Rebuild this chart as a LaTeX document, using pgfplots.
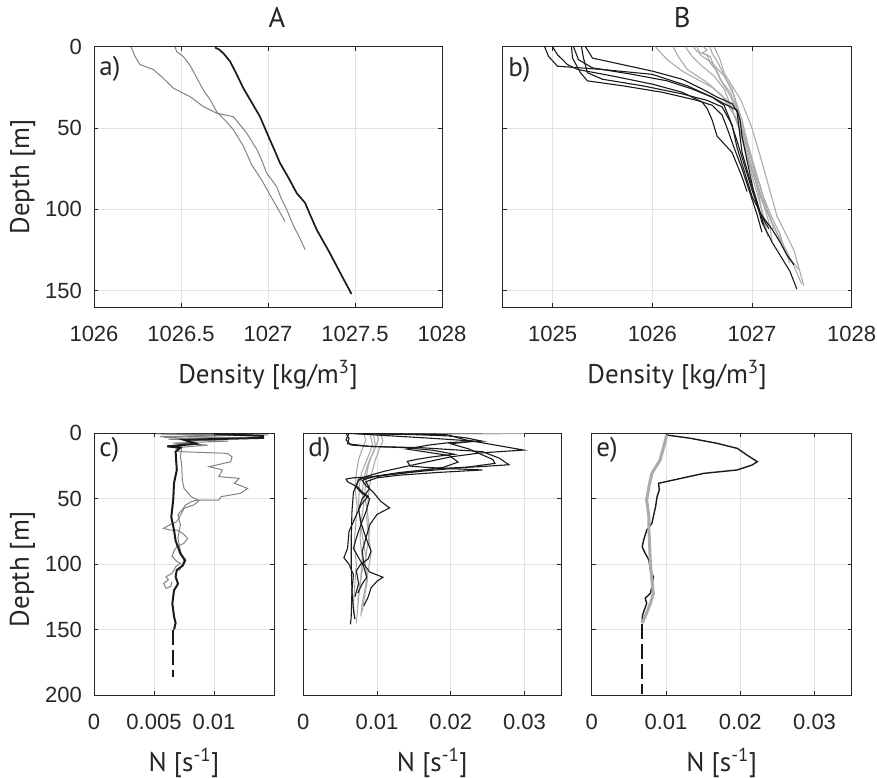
\documentclass[border=0pt]{standalone}
\usepackage{pgfplots}
\pgfplotsset{compat=1.18}
\usepackage{fontspec}
\setmainfont{Liberation Sans}
\newfontfamily\labfont{PT Sans}
\definecolor{axc}{HTML}{262626}
\definecolor{gridc}{HTML}{E2E2E2}
\definecolor{midgray}{HTML}{828282}
\definecolor{ltgray}{HTML}{ABABAB}
\definecolor{blk}{HTML}{1A1A1A}
\pgfplotsset{
  myax/.style={
    scale only axis,
    anchor=north west,
    y dir=reverse,
    scaled x ticks=false, scaled y ticks=false,
    axis line style={axc, line width=0.9pt},
    every tick/.style={axc, line width=0.9pt},
    major tick length=4pt,
    tick align=inside,
    xtick pos=both, ytick pos=both,
    grid=major,
    major grid style={gridc, line width=0.9pt},
    xticklabel style={font=\fontsize{22}{25}\selectfont, text=axc, anchor=base, inner sep=0pt, yshift=-34.5pt},
    yticklabel style={font=\fontsize{22}{25}\selectfont, text=axc, anchor=east, inner sep=0pt, xshift=-12pt},
    label style={font=\labfont\fontsize{27}{30}\selectfont, text=axc},
    title style={font=\labfont\fontsize{28.5}{31}\selectfont, text=axc, anchor=base, inner sep=0pt},
    xlabel style={at={(axis description cs:0.5,0)}, anchor=base, inner sep=0pt, yshift=-76pt},
    /pgf/number format/assume math mode=true,
    clip=true,
  },
}
\tikzset{plab/.style={font=\labfont\fontsize{27}{30}\selectfont, text=axc, anchor=base west, inner sep=0pt}}
\begin{document}
\begin{tikzpicture}
\useasboundingbox (0pt,0pt) rectangle (877pt,-778pt);
% ---------------- panel a
\begin{axis}[myax, at={(94pt,-46.7pt)}, width=348pt, height=260.3pt,
  xmin=1026, xmax=1028, ymin=0, ymax=160,
  xtick={1026,1026.5,1027,1027.5,1028}, xticklabels={1026,1026.5,1027,1027.5,1028},
  ytick={0,50,100,150}, yticklabels={0,50,100,150},
  xlabel={Density [kg/m\textsuperscript{3}]},
  ylabel={Depth [m]}, ylabel style={at={(axis description cs:-0.205,0.5)}, anchor=center, inner sep=0pt},
  title={A}, title style={at={(axis description cs:0.5,1)}, yshift=13.4pt, xshift=9pt}]
\addplot[midgray, line width=1pt] coordinates {
(1026.213,0) (1026.236,6) (1026.264,11) (1026.341,14) (1026.398,19.4) (1026.456,25.5) (1026.552,30.7) (1026.628,36.8) (1026.705,40.9) (1026.801,43) (1026.839,48) (1026.877,53) (1026.935,63) (1026.965,70) (1026.992,77.7) (1027.05,86) (1027.075,93) (1027.107,100) (1027.146,110) (1027.18,117) (1027.213,124.7)};
\addplot[midgray, line width=1pt] coordinates {
(1026.466,0) (1026.475,3) (1026.513,6) (1026.552,11.5) (1026.59,19) (1026.628,26.6) (1026.67,33) (1026.705,40) (1026.76,46) (1026.801,51) (1026.858,61) (1026.906,72.6) (1026.963,81.8) (1027.011,91) (1027.059,100) (1027.098,107.4)};
\addplot[blk, line width=1.7pt] coordinates {
(1026.695,0.5) (1026.72,1.8) (1026.743,4) (1026.782,9) (1026.82,17) (1026.858,25.5) (1026.905,34) (1026.954,43) (1027.002,55) (1027.035,63) (1027.069,71.5) (1027.12,81) (1027.165,90) (1027.213,96) (1027.245,104) (1027.28,112.5) (1027.356,127) (1027.42,140) (1027.48,152)};
\node[plab] at (axis description cs:0.015,0.888) {a)};
\end{axis}
% ---------------- panel b
\begin{axis}[myax, at={(502.7pt,-46.7pt)}, width=349pt, height=260.3pt,
  xmin=1024.5, xmax=1028, ymin=0, ymax=160,
  xtick={1025,1026,1027,1028}, xticklabels={1025,1026,1027,1028},
  ytick={0,50,100,150}, yticklabels={},
  xlabel={Density [kg/m\textsuperscript{3}]},
  title={B}, title style={at={(axis description cs:0.5,1)}, yshift=13.4pt, xshift=5pt}]
% gray profiles
\addplot[ltgray, line width=1.1pt] coordinates {(1026.03,0) (1026.15,8) (1026.3,15) (1026.45,20) (1026.6,25) (1026.75,33) (1026.85,45) (1026.92,60) (1026.98,75) (1027.05,90) (1027.12,105) (1027.16,117)};
\addplot[ltgray, line width=1.1pt] coordinates {(1026.21,0) (1026.25,5) (1026.35,14) (1026.55,22) (1026.7,30) (1026.82,42) (1026.9,55) (1026.97,70) (1027.05,85) (1027.15,100) (1027.25,115) (1027.35,128) (1027.47,137)};
\addplot[ltgray, line width=1.1pt] coordinates {(1026.33,0) (1026.4,6) (1026.5,12) (1026.62,18) (1026.72,26) (1026.8,38) (1026.88,52) (1026.95,68) (1027.02,80) (1027.1,95) (1027.2,108) (1027.3,120) (1027.4,132) (1027.5,146)};
\addplot[ltgray, line width=1.1pt] coordinates {(1026.41,0) (1026.45,3) (1026.55,5) (1026.58,10) (1026.65,15) (1026.7,22) (1026.78,30) (1026.85,40) (1026.92,55) (1027.0,70) (1027.08,85) (1027.15,100) (1027.22,112) };
\addplot[ltgray, line width=1.1pt] coordinates {(1026.51,0) (1026.55,2) (1026.5,4) (1026.58,6) (1026.62,12) (1026.68,20) (1026.78,28) (1026.86,40) (1026.93,55) (1027.0,70) (1027.06,85) (1027.12,98) (1027.18,110) (1027.2,120)};
\addplot[ltgray, line width=1.1pt] coordinates {(1026.62,0) (1026.68,8) (1026.72,16) (1026.89,33) (1027.0,50) (1027.1,71) (1027.25,104) (1027.42,125) (1027.52,147)};
\addplot[ltgray, line width=1.1pt] coordinates {(1026.58,0) (1026.6,4) (1026.66,10) (1026.74,20) (1026.82,30) (1026.9,45) (1026.96,60) (1027.03,75) (1027.1,90) (1027.2,105) (1027.28,115) (1027.33,125) (1027.38,133)};
\addplot[ltgray, line width=1.1pt] coordinates {(1026.45,0) (1026.48,5) (1026.6,10) (1026.72,18) (1026.8,26) (1026.86,40) (1026.9,52) (1026.96,65) (1027.03,80) (1027.08,95) (1027.12,108) (1027.15,115)};
% black profiles
\addplot[blk, line width=1.1pt] coordinates {(1024.92,0) (1024.96,6) (1025.05,12) (1025.5,14) (1026.0,17) (1026.35,24) (1026.6,31) (1026.75,36) (1026.85,39) (1026.88,45) (1026.9,55) (1026.95,70) (1027.02,90) (1027.1,108) (1027.2,120) (1027.3,130) (1027.38,138) (1027.45,149)};
\addplot[blk, line width=1.1pt] coordinates {(1025.0,0) (1025.05,5) (1025.15,11) (1025.25,14) (1025.6,18) (1026.0,23) (1026.3,28) (1026.5,34) (1026.55,38) (1026.6,45) (1026.65,55) (1026.8,65) (1026.9,80) (1026.95,89)};
\addplot[blk, line width=1.1pt] coordinates {(1025.19,0) (1025.2,7) (1025.28,16) (1025.35,21) (1025.7,24) (1026.1,28) (1026.45,33) (1026.6,36) (1026.7,42) (1026.75,50) (1026.82,62) (1026.9,75) (1026.98,90) (1027.05,103) (1027.1,114)};
\addplot[blk, line width=1.1pt] coordinates {(1025.21,0) (1025.26,8) (1025.4,13) (1025.8,17) (1026.15,21) (1026.4,26) (1026.6,31) (1026.72,36) (1026.78,45) (1026.85,58) (1026.92,72) (1027.0,88) (1027.08,102) (1027.17,112)};
\addplot[blk, line width=1.1pt] coordinates {(1025.29,0) (1025.31,7) (1025.35,16) (1025.5,20) (1025.9,24) (1026.3,29) (1026.55,33) (1026.7,37) (1026.8,48) (1026.85,62) (1026.93,78) (1027.0,92) (1027.1,104) (1027.2,112) (1027.28,120) (1027.35,128) (1027.42,134)};
\addplot[blk, line width=1.1pt] coordinates {(1025.33,0) (1025.4,7) (1025.7,11) (1026.0,15) (1026.3,20) (1026.5,26) (1026.65,31) (1026.8,35) (1026.85,40) (1026.87,50) (1026.9,65) (1026.97,80) (1027.05,95) (1027.12,110)};
\node[plab] at (axis description cs:0.016,0.885) {b)};
\end{axis}
% ---------------- panel c
\begin{axis}[myax, at={(94pt,-433.3pt)}, width=180pt, height=261.7pt,
  xmin=0, xmax=0.015, ymin=0, ymax=200,
  xtick={0,0.005,0.01}, xticklabels={0,0.005,0.01},
  ytick={0,50,100,150,200}, yticklabels={0,50,100,150,200},
  xlabel={N [s\textsuperscript{-1}]},
  ylabel={Depth [m]}, ylabel style={at={(axis description cs:-0.397,0.48)}, anchor=center, inner sep=0pt}]
\addplot[midgray, line width=1pt] coordinates {
(0.0052,0.5) (0.0145,1.2) (0.0055,2.5) (0.0128,3.5) (0.0062,4.5) (0.0112,6) (0.0066,7.5) (0.0095,9) (0.0068,11) (0.0071,14) (0.0111,15.3) (0.0115,17.9) (0.0114,21.7) (0.0096,25.5) (0.0107,28) (0.0104,33.1) (0.0121,34.4) (0.0117,38.2) (0.0128,42.1) (0.0122,45.9) (0.0106,48.4) (0.0104,51) (0.0086,51) (0.0081,52.3) (0.0076,55) (0.0074,58) (0.0070,62) (0.0072,70) (0.0070,80) (0.0072,90) (0.0075,98) (0.0071,105)};
\addplot[midgray, line width=1pt] coordinates {
(0.0060,0.5) (0.0100,1.5) (0.0058,3) (0.0090,5) (0.0070,8) (0.0073,12) (0.0072,18) (0.0073,23) (0.00736,35.7) (0.0075,42) (0.0081,48.4) (0.00875,51.5) (0.0083,54.8) (0.0075,57.3) (0.0073,61) (0.0069,67.5) (0.0063,70) (0.0058,72.6) (0.0063,73.9) (0.0069,73.9) (0.0074,76.5) (0.0078,80.3) (0.0075,84) (0.0069,86.7) (0.0067,89.2) (0.0065,94) (0.0069,98) (0.0072,99.4) (0.0068,102) (0.00667,104.5) (0.0065,107) (0.0060,109.6) (0.0062,112) (0.0058,114.7) (0.0060,118.5) (0.0064,117) (0.0065,113.4)};
\addplot[blk, line width=2pt] coordinates {
(0.0100,0.5) (0.0141,2) (0.0141,3.5) (0.0075,5) (0.0085,8) (0.0061,10) (0.0072,11) (0.0068,14) (0.0069,28) (0.00667,38) (0.0066,51) (0.00644,64) (0.00667,74) (0.0068,82) (0.0072,92) (0.0076,97) (0.0074,101) (0.0069,104.5) (0.0068,109.6) (0.0070,115) (0.00667,120) (0.00653,130) (0.00667,140) (0.0068,145) (0.00667,150)};
\addplot[blk, line width=2pt, dash pattern=on 15pt off 5pt] coordinates {(0.00656,150) (0.00656,186)};
\node[plab] at (axis description cs:0.029,0.91) {c)};
\end{axis}
% ---------------- panel d
\begin{axis}[myax, at={(303.3pt,-433.3pt)}, width=258pt, height=261.7pt,
  xmin=0, xmax=0.035, ymin=0, ymax=200,
  xtick={0,0.01,0.02,0.03}, xticklabels={0,0.01,0.02,0.03},
  ytick={0,50,100,150,200}, yticklabels={},
  xlabel={N [s\textsuperscript{-1}]}]
\addplot[ltgray, line width=1.1pt] coordinates {(0.0100,0) (0.0102,5) (0.0098,10) (0.0095,15) (0.0090,20) (0.0085,28) (0.0082,35) (0.0080,45) (0.0082,55) (0.0079,65) (0.0077,80) (0.0080,95) (0.0078,110) (0.0075,125) (0.0073,138) (0.0072,145)};
\addplot[ltgray, line width=1.1pt] coordinates {(0.0090,0) (0.0094,8) (0.0090,15) (0.0085,22) (0.0079,30) (0.0076,40) (0.0075,55) (0.0078,70) (0.0082,85) (0.0085,95) (0.0080,105) (0.0076,118) (0.0074,128)};
\addplot[ltgray, line width=1.1pt] coordinates {(0.0300,0.2) (0.0105,0.8) (0.0108,6) (0.0103,12) (0.0098,20) (0.0093,30) (0.0090,40) (0.0088,50) (0.0086,65) (0.0089,80) (0.0092,92) (0.0088,105) (0.0084,118) (0.0080,130) (0.0078,140)};
\addplot[ltgray, line width=1.1pt] coordinates {(0.0082,0) (0.0085,5) (0.0080,12) (0.0075,20) (0.0072,30) (0.0070,42) (0.0073,55) (0.0071,70) (0.0069,85) (0.0072,100) (0.0070,115) (0.0068,130) (0.0070,142)};
\addplot[ltgray, line width=1.1pt] coordinates {(0.0095,0) (0.0098,10) (0.0092,18) (0.0088,25) (0.0085,35) (0.0083,48) (0.0087,60) (0.0090,75) (0.0086,90) (0.0084,100) (0.0087,112) (0.0083,125) (0.0080,136)};
\addplot[blk, line width=1.1pt] coordinates {(0.0059,0) (0.0194,1) (0.022,5) (0.0299,12.8) (0.024,15) (0.020,18) (0.015,24) (0.011,29) (0.0085,33) (0.0075,36) (0.0068,45) (0.0066,60) (0.0065,80) (0.0065,100) (0.0066,120) (0.0065,140) (0.0064,146)};
\addplot[blk, line width=1.1pt] coordinates {(0.0058,0) (0.0062,4) (0.0060,8) (0.009,10) (0.016,11) (0.0243,14) (0.0266,19) (0.0279,24) (0.024,25.5) (0.018,27) (0.013,30) (0.0095,33) (0.0080,36) (0.0085,40) (0.0095,45) (0.0105,52) (0.0117,57) (0.0100,62) (0.0090,70) (0.0085,80) (0.0080,90) (0.0082,100) (0.0090,106) (0.0108,110) (0.0100,113) (0.0092,118) (0.0088,125) (0.0082,132)};
\addplot[blk, line width=1.1pt] coordinates {(0.006,0) (0.012,2) (0.018,4) (0.0232,6) (0.0200,8) (0.0225,12) (0.0257,20) (0.0260,23) (0.022,26) (0.016,29) (0.011,32) (0.0075,35) (0.0072,40) (0.0080,45) (0.0088,48) (0.0078,55) (0.0070,65) (0.0062,75) (0.0060,88) (0.0055,95) (0.0062,100) (0.0068,108) (0.0066,120) (0.0068,135) (0.0070,142)};
\addplot[blk, line width=1.1pt] coordinates {(0.0062,0) (0.0058,5) (0.0065,9) (0.009,10) (0.014,11) (0.0176,13) (0.0205,16) (0.0175,18) (0.0153,20) (0.0141,21.5) (0.0145,25) (0.0165,26) (0.0200,27) (0.0243,28) (0.018,30) (0.013,32) (0.0100,34) (0.0085,37) (0.0090,42) (0.0080,50) (0.0075,58) (0.0078,68) (0.0085,80) (0.0092,90) (0.0088,96) (0.0078,100) (0.0072,105) (0.0075,115) (0.0070,125)};
\addplot[blk, line width=1.1pt] coordinates {(0.0065,0) (0.010,0.5) (0.015,1) (0.0198,2) (0.0221,3.5) (0.0243,6) (0.020,7) (0.017,9) (0.014,12) (0.0175,15) (0.0198,17) (0.021,22) (0.019,26) (0.014,30) (0.0098,33) (0.0068,34) (0.0058,35) (0.0060,37) (0.0070,40) (0.0078,45) (0.0090,50) (0.0085,60) (0.0078,70) (0.0072,80) (0.0068,88) (0.0075,95) (0.0082,102) (0.0086,110) (0.0080,115) (0.0074,122)};
\node[plab] at (axis description cs:0.019,0.91) {d)};
\end{axis}
% ---------------- panel e
\begin{axis}[myax, at={(591.7pt,-433.3pt)}, width=260pt, height=261.7pt,
  xmin=0, xmax=0.035, ymin=0, ymax=200,
  xtick={0,0.01,0.02,0.03}, xticklabels={0,0.01,0.02,0.03},
  ytick={0,50,100,150,200}, yticklabels={},
  xlabel={N [s\textsuperscript{-1}]}]
\addplot[blk, line width=1.4pt] coordinates {
(0.0101,1.3) (0.0133,3.8) (0.0169,7.7) (0.0196,11.5) (0.0209,16.6) (0.0223,21.7) (0.0216,24.2) (0.0196,28) (0.0151,30.6) (0.011,35.7) (0.0090,38.2) (0.0091,43.3) (0.0088,48.4) (0.0086,56) (0.0083,63.7) (0.0081,68.8) (0.0074,74) (0.0070,81.5) (0.0068,86.7) (0.0072,91.7) (0.0077,96.8) (0.0079,104.5) (0.0083,109.6) (0.0081,117.2) (0.0079,122.3) (0.0072,126) (0.0074,130) (0.0070,136.3) (0.0068,140) (0.0068,145)};
\addplot[ltgray, line width=3pt] coordinates {
(0.0101,1.3) (0.0097,10.2) (0.0092,20.4) (0.0081,30.6) (0.0077,40.8) (0.0074,51) (0.0077,63.7) (0.0077,74) (0.0078,86.7) (0.0079,99.4) (0.0081,112) (0.0083,122.3) (0.0079,130) (0.0072,140) (0.0068,145)};
\addplot[blk, line width=2pt, dash pattern=on 15pt off 5pt] coordinates {(0.0068,146) (0.0068,199)};
\node[plab] at (axis description cs:0.017,0.91) {e)};
\end{axis}
\end{tikzpicture}
\end{document}
